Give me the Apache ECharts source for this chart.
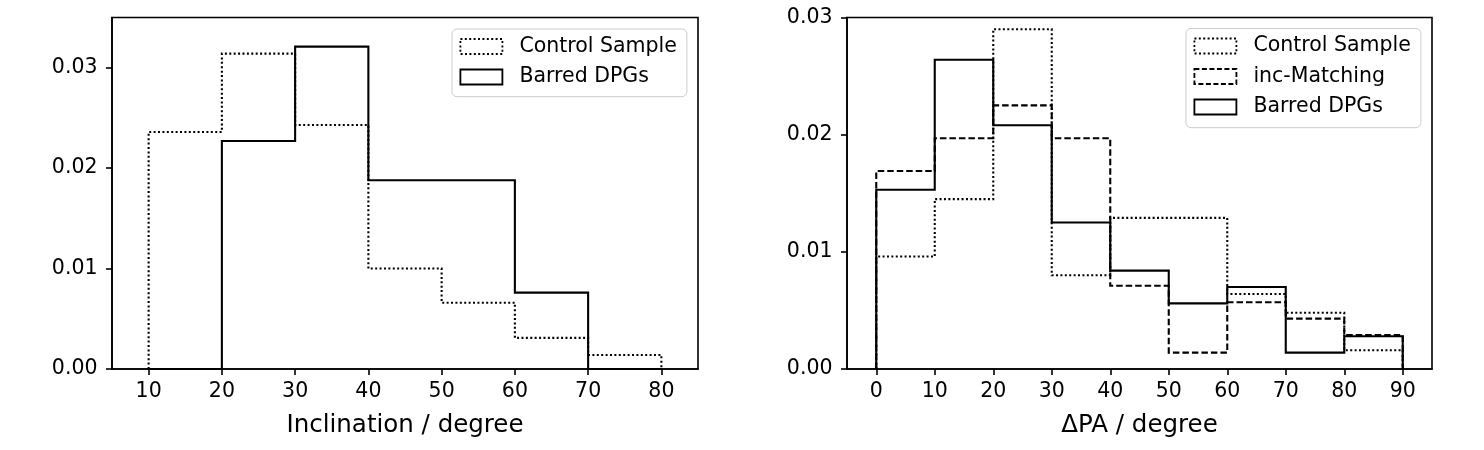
<!DOCTYPE html>
<html>
<head>
<meta charset="utf-8">
<script src="https://cdn.jsdelivr.net/npm/echarts@6/dist/echarts.min.js"></script>
<style>html,body{margin:0;padding:0;background:#fff;}#c{width:1484px;height:450px;}</style>
</head>
<body>
<div id="c"></div>
<script>
// ---- data ----
const incEdges = [10, 20, 30, 40, 50, 60, 70, 80];
const incControl = [0.0236, 0.0314, 0.0243, 0.0100, 0.0066, 0.0031, 0.0014];
const incBarred = [0, 0.0227, 0.0321, 0.0188, 0.0188, 0.0076, 0];

const paEdges = [0, 10, 20, 30, 40, 50, 60, 70, 80, 90];
const paControl = [0.0096, 0.0145, 0.0290, 0.0080, 0.0129, 0.0129, 0.0064, 0.0048, 0.0016];
const paMatching = [0.0169, 0.0197, 0.0225, 0.0197, 0.0071, 0.0014, 0.0057, 0.0043, 0.0029];
const paBarred = [0.0153, 0.0264, 0.0208, 0.0125, 0.0084, 0.0056, 0.0070, 0.0014, 0.0028];

const incXTicks = [10, 20, 30, 40, 50, 60, 70, 80];
const paXTicks = [0, 10, 20, 30, 40, 50, 60, 70, 80, 90];
const incYTicks = [0, 0.01, 0.02, 0.03];
const paYTicks = [0, 0.01, 0.02, 0.03];

const labelLeft = 'Inclination / degree';
const labelRight = 'ΔPA / degree';
const nameControl = 'Control Sample';
const nameMatching = 'inc-Matching';
const nameBarred = 'Barred DPGs';

// ---- helpers ----
function outline(edges, vals) {
  const pts = [[edges[0], 0]];
  for (let i = 0; i < vals.length; i++) {
    pts.push([edges[i], vals[i]]);
    pts.push([edges[i + 1], vals[i]]);
  }
  pts.push([edges[edges.length - 1], 0]);
  return pts;
}
const FONT = 'DejaVu Sans';
const DOT = [2, 2.4];
const DASH = [6.5, 3];

function xAxis(idx, min, max, ticks, name) {
  return {
    type: 'value', gridIndex: idx, min: min, max: max,
    name: name, nameLocation: 'middle', nameGap: 44,
    nameTextStyle: { fontFamily: FONT, fontSize: 24.5, color: '#000' },
    axisLine: { show: true, onZero: false, lineStyle: { color: '#000', width: 1.6 } },
    axisTick: { show: true, inside: false, length: 6, lineStyle: { color: '#000', width: 1.6 }, customValues: ticks },
    axisLabel: { show: true, margin: 12, fontFamily: FONT, fontSize: 20.5, color: '#000', customValues: ticks },
    splitLine: { show: false }
  };
}
function yAxis(idx, min, max, ticks) {
  return {
    type: 'value', gridIndex: idx, min: min, max: max,
    axisLine: { show: true, onZero: false, lineStyle: { color: '#000', width: 1.6 } },
    axisTick: { show: true, inside: false, length: 6, lineStyle: { color: '#000', width: 1.6 }, customValues: ticks },
    axisLabel: { show: true, margin: 14.5, fontFamily: FONT, fontSize: 20.5, color: '#000', customValues: ticks,
      formatter: v => v.toFixed(2) },
    splitLine: { show: false }
  };
}
function stepSeries(name, idx, edges, vals, type, z) {
  return {
    name: name, type: 'line', xAxisIndex: idx, yAxisIndex: idx,
    data: outline(edges, vals), symbol: 'none', z: z,
    lineStyle: { color: '#000', width: 2.1, type: type, cap: 'butt', join: 'miter' },
    itemStyle: { color: '#000' },
    emphasis: { disabled: true }
  };
}
function legendItem(name, type) {
  return { name: name, icon: 'rect',
    itemStyle: { color: 'rgba(0,0,0,0)', borderColor: '#000', borderWidth: 1.8, borderType: type } };
}
function legendBox(left, top, padBottom, items) {
  return {
    left: left, top: top, orient: 'vertical',
    backgroundColor: 'rgba(255,255,255,0.8)', borderColor: '#cccccc', borderWidth: 1, borderRadius: 5,
    padding: [6.5, 10, padBottom, 7.5], itemWidth: 42, itemHeight: 15, itemGap: 8.5,
    textStyle: { fontFamily: FONT, fontSize: 20.5, color: '#000', lineHeight: 22, padding: [0, 0, 0, 12] },
    selectedMode: false,
    data: items
  };
}

const chart = echarts.init(document.getElementById('c'), null, { renderer: 'canvas' });
chart.setOption({
  animation: false,
  backgroundColor: '#fff',
  grid: [
    { left: 112, top: 17.5, width: 586, height: 351.5, show: true, borderColor: '#000', borderWidth: 1.6, backgroundColor: 'transparent' },
    { left: 847, top: 17.5, width: 585, height: 351.5, show: true, borderColor: '#000', borderWidth: 1.6, backgroundColor: 'transparent' }
  ],
  xAxis: [
    xAxis(0, 5, 85, incXTicks, labelLeft),
    xAxis(1, -5, 95, paXTicks, labelRight)
  ],
  yAxis: [
    yAxis(0, 0, 0.035, incYTicks),
    yAxis(1, 0, 0.03, paYTicks)
  ],
  legend: [
    legendBox(452, 29, 8.7, [legendItem(nameControl, DOT), legendItem(nameBarred, 'solid')]),
    legendBox(1186, 28.5, 9.7, [legendItem(nameControl, DOT), legendItem(nameMatching, [5, 2.5]), legendItem(nameBarred, 'solid')])
  ],
  series: [
    stepSeries(nameControl, 0, incEdges, incControl, DOT, 2),
    stepSeries(nameBarred, 0, incEdges, incBarred, 'solid', 4),
    stepSeries(nameControl, 1, paEdges, paControl, DOT, 2),
    stepSeries(nameMatching, 1, paEdges, paMatching, DASH, 3),
    stepSeries(nameBarred, 1, paEdges, paBarred, 'solid', 4)
  ]
});
</script>
</body>
</html>
